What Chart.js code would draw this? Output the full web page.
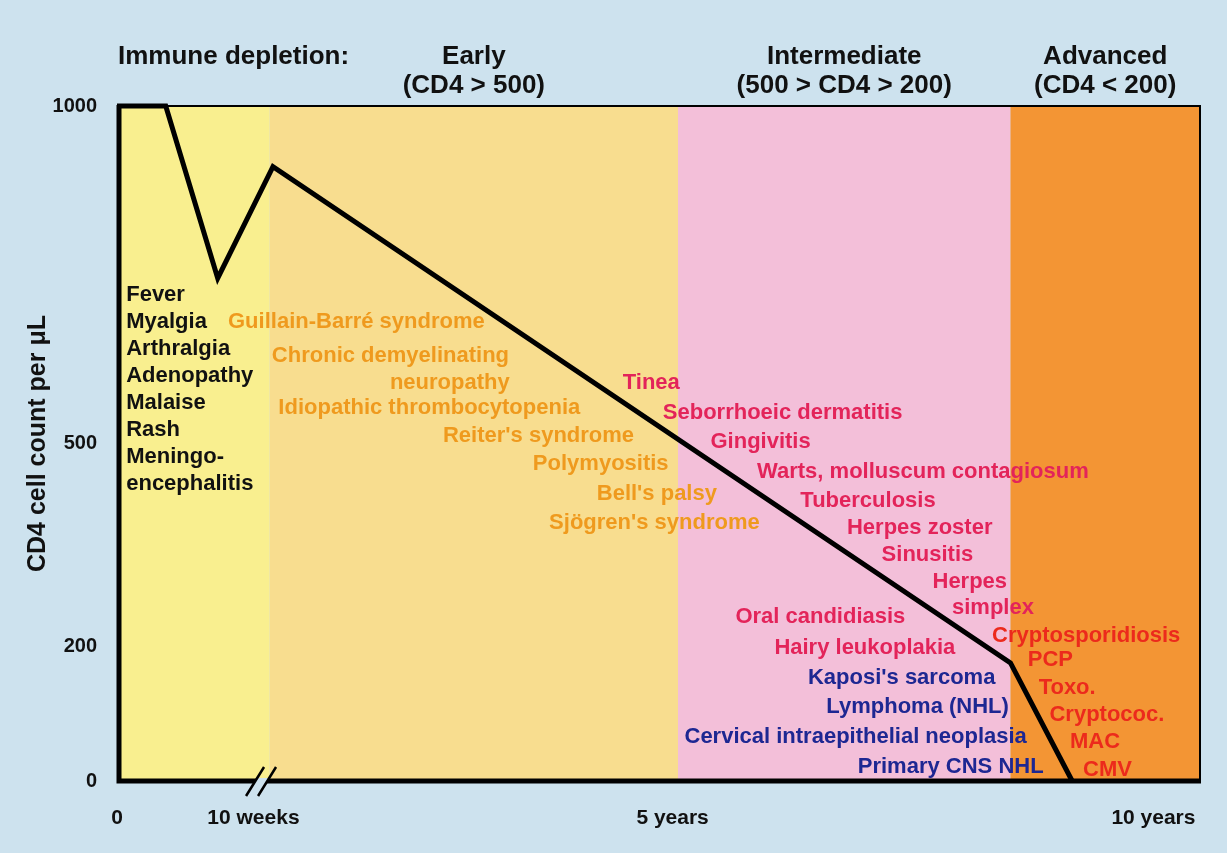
<!DOCTYPE html>
<html>
<head>
<meta charset="utf-8">
<script src="https://cdn.jsdelivr.net/npm/chart.js@4.4.1/dist/chart.umd.min.js"></script>
<style>
  html, body { margin: 0; padding: 0; background: #cde2ee; }
  #wrap { width: 1227px; height: 853px; }
</style>
</head>
<body>
<div id="wrap"><canvas id="cd4-chart"></canvas></div>
<script>
// schematic time axis: 0 = infection, 100 = right edge of the plot
var timePos = [0, 4.5, 9.3, 14.4, 82.5, 88.2];
var cd4Count = [1000, 1000, 745, 910, 175, 0];

var xTickPos = [0, 12.6, 51.3, 95.7];
var xTickLabels = ['0', '10 weeks', '5 years', '10 years'];
var yTickValues = [0, 200, 500, 1000];
var axisBreak = 13.3;

// stages of immune depletion
var stageEdges = [0, 14.1, 51.8, 82.5, 100];
var stageNames = ['', 'Early', 'Intermediate', 'Advanced'];
var stageRanges = ['', '(CD4 > 500)', '(500 > CD4 > 200)', '(CD4 < 200)'];
var stageFill = ['#f9ef8f', '#f8dd8f', '#f3bfd9', '#f39534'];

// conditions: [text, time, cd4]
var acuteNotes = [
  ['Fever', 0.85, 720], ['Myalgia', 0.85, 680], ['Arthralgia', 0.85, 640],
  ['Adenopathy', 0.85, 600], ['Malaise', 0.85, 560], ['Rash', 0.85, 520],
  ['Meningo-', 0.85, 480], ['encephalitis', 0.85, 440]
];
var earlyNotes = [
  ['Guillain-Barré syndrome', 10.25, 680],
  ['Chronic demyelinating', 14.3, 630],
  ['neuropathy', 25.2, 590],
  ['Idiopathic thrombocytopenia', 14.9, 553],
  ["Reiter's syndrome", 30.1, 511],
  ['Polymyositis', 38.4, 470],
  ["Bell's palsy", 44.3, 425],
  ["Sjögren's syndrome", 39.9, 382]
];
var midNotes = [
  ['Tinea', 46.7, 590],
  ['Seborrhoeic dermatitis', 50.4, 545],
  ['Gingivitis', 54.8, 502],
  ['Warts, molluscum contagiosum', 59.1, 458],
  ['Tuberculosis', 63.1, 415],
  ['Herpes zoster', 67.4, 375],
  ['Sinusitis', 70.6, 335],
  ['Herpes', 75.3, 295],
  ['simplex', 77.1, 256],
  ['Oral candidiasis', 57.1, 243],
  ['Hairy leukoplakia', 60.7, 197]
];
var tumourNotes = [
  ["Kaposi's sarcoma", 63.8, 153],
  ['Lymphoma (NHL)', 65.5, 110],
  ['Cervical intraepithelial neoplasia', 52.4, 65],
  ['Primary CNS NHL', 68.4, 21]
];
var lateNotes = [
  ['Cryptosporidiosis', 80.8, 215],
  ['PCP', 84.1, 179],
  ['Toxo.', 85.1, 138],
  ['Cryptococ.', 86.1, 98],
  ['MAC', 88.0, 58],
  ['CMV', 89.2, 16]
];

var FONT = '"Liberation Sans", Arial, Helvetica, sans-serif';
var BG = '#cde2ee';

var points = timePos.map(function (t, i) { return { x: t, y: cd4Count[i] }; });

function drawNotes(c, xs, ys, list, colour) {
  c.fillStyle = colour;
  list.forEach(function (n) {
    c.fillText(n[0], xs.getPixelForValue(n[1]), ys.getPixelForValue(n[2]));
  });
}

var stagePlugin = {
  id: 'stages',
  beforeDraw: function (chart) {
    var c = chart.ctx, a = chart.chartArea, xs = chart.scales.x;
    c.save();
    for (var i = 0; i < stageFill.length; i++) {
      var x0 = xs.getPixelForValue(stageEdges[i]);
      var x1 = xs.getPixelForValue(stageEdges[i + 1]);
      c.fillStyle = stageFill[i];
      c.fillRect(x0, a.top, x1 - x0, a.bottom - a.top);
    }
    // stage headings
    c.fillStyle = '#111';
    c.textBaseline = 'middle';
    c.font = 'bold 26px ' + FONT;
    c.textAlign = 'left';
    c.fillText('Immune depletion:', a.left + 1, 57);
    c.textAlign = 'center';
    for (var j = 1; j < stageNames.length; j++) {
      var cx = (xs.getPixelForValue(stageEdges[j]) + xs.getPixelForValue(stageEdges[j + 1])) / 2;
      c.fillText(stageNames[j], cx, 57);
      c.fillText(stageRanges[j], cx, 86);
    }
    c.restore();
  },
  afterDatasetsDraw: function (chart) {
    var c = chart.ctx, a = chart.chartArea, xs = chart.scales.x, ys = chart.scales.y;
    c.save();
    // frame
    c.strokeStyle = '#000';
    c.lineWidth = 2;
    c.beginPath();
    c.moveTo(a.left, a.top);
    c.lineTo(a.right, a.top);
    c.lineTo(a.right, a.bottom);
    c.stroke();
    c.lineWidth = 5;
    c.beginPath();
    c.moveTo(a.left + 2, a.top - 1);
    c.lineTo(a.left + 2, a.bottom);
    c.lineTo(a.right + 1, a.bottom);
    c.stroke();

    // axis break
    var bx = xs.getPixelForValue(axisBreak), by = a.bottom;
    c.fillStyle = BG;
    c.beginPath();
    c.moveTo(bx - 6 - 1.5, by + 3);
    c.lineTo(bx + 6 - 1.5, by + 3);
    c.lineTo(bx + 6 + 1.5, by - 3);
    c.lineTo(bx - 6 + 1.5, by - 3);
    c.closePath();
    c.fill();
    c.lineWidth = 2.5;
    c.beginPath();
    [-6, 6].forEach(function (d) {
      c.moveTo(bx + d - 9, by + 15);
      c.lineTo(bx + d + 9, by - 14);
    });
    c.stroke();

    // conditions
    c.textBaseline = 'middle';
    c.textAlign = 'left';
    c.font = 'bold 22px ' + FONT;
    drawNotes(c, xs, ys, acuteNotes, '#111');
    drawNotes(c, xs, ys, earlyNotes, '#ef9a1e');
    drawNotes(c, xs, ys, midNotes, '#e3245a');
    drawNotes(c, xs, ys, tumourNotes, '#1d2792');
    drawNotes(c, xs, ys, lateNotes, '#ec2a1c');
    c.restore();
  }
};

new Chart(document.getElementById('cd4-chart'), {
  type: 'line',
  data: {
    datasets: [{
      label: 'CD4 count',
      data: points,
      borderColor: '#000',
      borderWidth: 5,
      borderJoinStyle: 'miter',
      pointRadius: 0,
      tension: 0,
      fill: false,
      clip: false
    }]
  },
  options: {
    responsive: true,
    maintainAspectRatio: false,
    animation: false,
    layout: { padding: { top: 106, right: 27, left: 0, bottom: 0 } },
    plugins: {
      legend: { display: false },
      tooltip: { enabled: false }
    },
    scales: {
      x: {
        type: 'linear',
        min: 0,
        max: 100,
        grid: { display: false, drawTicks: false },
        border: { display: false },
        afterBuildTicks: function (s) {
          s.ticks = xTickPos.map(function (v) { return { value: v }; });
        },
        afterFit: function (s) { s.height = 72; },
        ticks: {
          autoSkip: false,
          maxRotation: 0,
          padding: 25,
          color: '#111',
          font: { family: FONT, size: 21, weight: 'bold' },
          callback: function (v) {
            var i = xTickPos.indexOf(v);
            return i >= 0 ? xTickLabels[i] : '';
          }
        }
      },
      y: {
        type: 'linear',
        min: 0,
        max: 1000,
        grid: { display: false, drawTicks: false },
        border: { display: false },
        afterBuildTicks: function (s) {
          s.ticks = yTickValues.map(function (v) { return { value: v }; });
        },
        afterFit: function (s) { s.width = 117; },
        ticks: {
          padding: 20,
          color: '#111',
          font: { family: FONT, size: 20, weight: 'bold' },
          callback: function (v) { return String(v); }
        },
        title: {
          display: true,
          text: 'CD4 cell count per μL',
          color: '#111',
          padding: { top: 23, bottom: 0 },
          font: { family: FONT, size: 25, weight: 'bold' }
        }
      }
    }
  },
  plugins: [stagePlugin]
});
</script>
</body>
</html>
